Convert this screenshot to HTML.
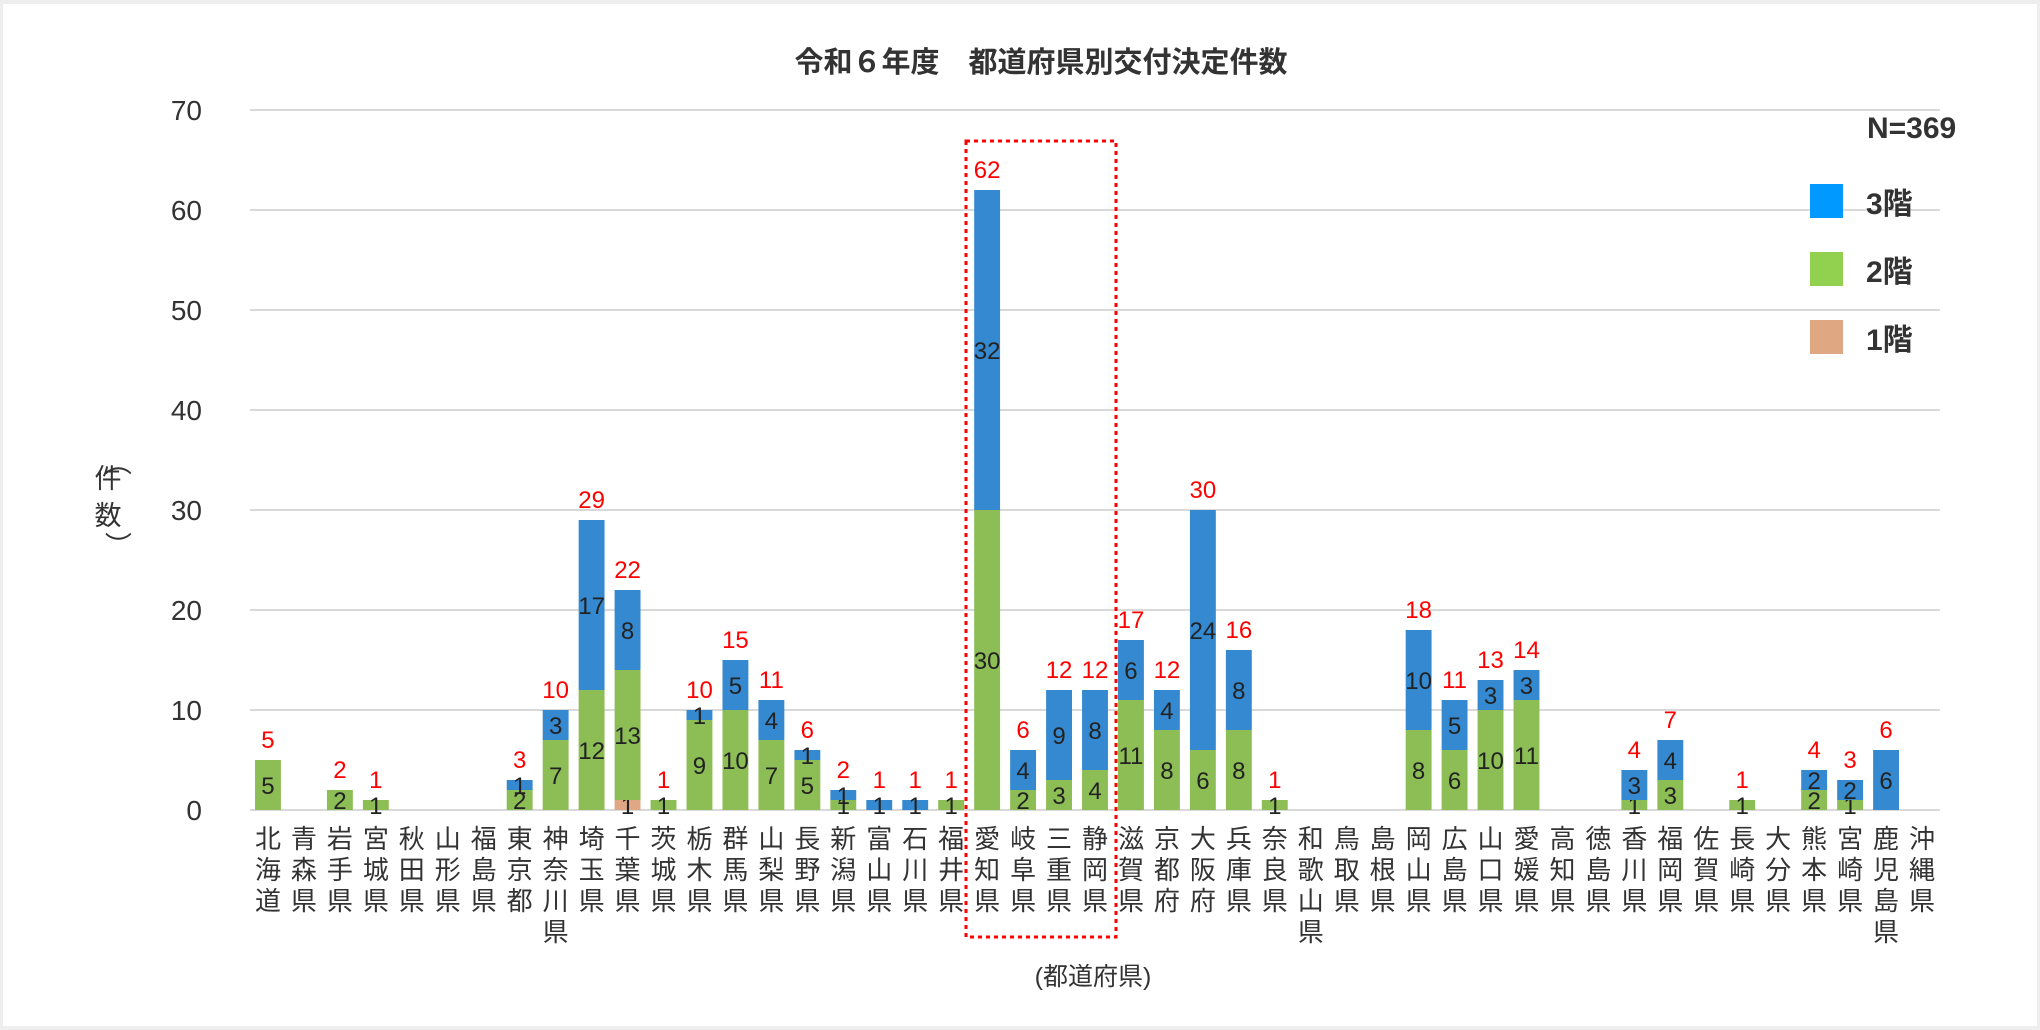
<!DOCTYPE html>
<html><head><meta charset="utf-8"><style>
html,body{margin:0;padding:0;background:#eee;}
svg{display:block;font-family:"Liberation Sans","Noto Sans CJK JP",sans-serif;}
</style></head><body>
<svg id="chart" width="2040" height="1030" viewBox="0 0 2040 1030" xmlns="http://www.w3.org/2000/svg">
<rect x="3" y="4" width="2034" height="1022" fill="#fff"/>
<text x="1041" y="72" text-anchor="middle" font-size="29" font-weight="bold" fill="#333">令和６年度　都道府県別交付決定件数</text>
<g id="grid"></g>
<g id="yticks"></g>
<g id="bars"></g>
<g id="xlabels"></g>
<g font-size="27" fill="#333" text-anchor="middle">
<text x="108" y="462" transform="rotate(90 108 462)">（</text>
<text x="108" y="488">件</text>
<text x="108" y="525">数</text>
<text x="108" y="545" transform="rotate(90 108 545)">）</text>
</g>
<text x="1093" y="985" text-anchor="middle" font-size="25" fill="#333">(都道府県)</text>
<rect x="966" y="141" width="150" height="796" fill="none" stroke="#ff0000" stroke-width="3" stroke-dasharray="4,4"/>
<g>
<text x="1867" y="138" font-size="30" font-weight="bold" fill="#333">N=369</text>
<rect x="1810" y="184" width="33" height="34" fill="#0099ff"/>
<text x="1866" y="214" font-size="30" font-weight="bold" fill="#333">3階</text>
<rect x="1810" y="252" width="33" height="34" fill="#92d050"/>
<text x="1866" y="282" font-size="30" font-weight="bold" fill="#333">2階</text>
<rect x="1810" y="320" width="33" height="34" fill="#e0a882"/>
<text x="1866" y="350" font-size="30" font-weight="bold" fill="#333">1階</text>
</g>
</svg>
<script>
const categories=["北海道","青森県","岩手県","宮城県","秋田県","山形県","福島県","東京都","神奈川県","埼玉県","千葉県","茨城県","栃木県","群馬県","山梨県","長野県","新潟県","富山県","石川県","福井県","愛知県","岐阜県","三重県","静岡県","滋賀県","京都府","大阪府","兵庫県","奈良県","和歌山県","鳥取県","島根県","岡山県","広島県","山口県","愛媛県","高知県","徳島県","香川県","福岡県","佐賀県","長崎県","大分県","熊本県","宮崎県","鹿児島県","沖縄県"];
const floor1=[0,0,0,0,0,0,0,0,0,0,1,0,0,0,0,0,0,0,0,0,0,0,0,0,0,0,0,0,0,0,0,0,0,0,0,0,0,0,0,0,0,0,0,0,0,0,0];
const floor2=[5,0,2,1,0,0,0,2,7,12,13,1,9,10,7,5,1,0,0,1,30,2,3,4,11,8,6,8,1,0,0,0,8,6,10,11,0,0,1,3,0,1,0,2,1,0,0];
const floor3=[0,0,0,0,0,0,0,1,3,17,8,0,1,5,4,1,1,1,1,0,32,4,9,8,6,4,24,8,0,0,0,0,10,5,3,3,0,0,3,4,0,0,0,2,2,6,0];
const yTicks=[0,10,20,30,40,50,60,70];
const NS="http://www.w3.org/2000/svg";
const X0=250,X1=1940,Y0=810,PX10=100;
const band=(X1-X0)/categories.length;
const bw=band*0.72;
function y(v){return Y0-v*PX10/10;}
function xc(i){return X0+band*(i+0.5);}
function mk(tag,attrs,parent){const e=document.createElementNS(NS,tag);for(const k in attrs)e.setAttribute(k,attrs[k]);parent.appendChild(e);return e;}
const grid=document.getElementById('grid'),yt=document.getElementById('yticks'),bars=document.getElementById('bars'),xl=document.getElementById('xlabels');
yTicks.forEach(t=>{
  const l=mk('line',{x1:X0,x2:X1,y1:y(t),y2:y(t),stroke:'#d9d9d9','stroke-width':2},grid);
  
  
  const tx=mk('text',{x:202,y:y(t)+10,'text-anchor':'end','font-size':28,fill:'#333'},yt);
  tx.textContent=t;
  
  
});
const series=[[floor1,'#dfa784','1f'],[floor2,'#8dbd55','2f'],[floor3,'#3589d0','3f']];
categories.forEach((c,i)=>{
  let base=0;
  series.forEach(([arr,col,nm])=>{
    const v=arr[i];
    if(v>0){
      const r=mk('rect',{x:xc(i)-bw/2,y:y(base+v),width:bw,height:y(base)-y(base+v),fill:col},bars);
      
      
      const t=mk('text',{x:xc(i),y:(y(base)+y(base+v))/2+9,'text-anchor':'middle','font-size':24,fill:'#222'},bars);
      t.textContent=v;
      
      
    }
    base+=v;
  });
  if(base>0){
    const t=mk('text',{x:xc(i),y:y(base)-12,'text-anchor':'middle','font-size':24,fill:'#ff0000'},bars);
    t.textContent=base;
    
    
  }
  const g=mk('g',{},xl);
  
  
  [...c].forEach((ch,k)=>{
    const t=mk('text',{x:xc(i),y:848+k*31,'text-anchor':'middle','font-size':26,fill:'#333'},g);
    t.textContent=ch;
  });
});
</script>
</body></html>
